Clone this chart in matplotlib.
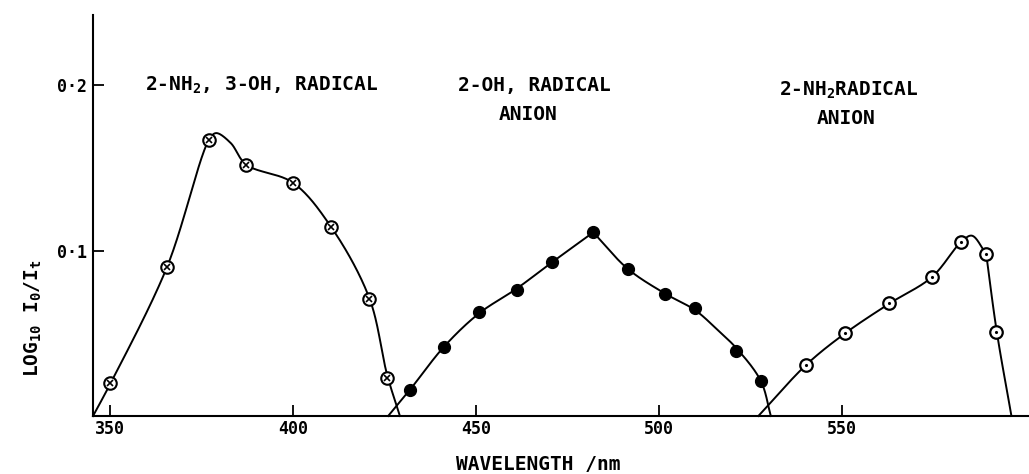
import numpy as np
import matplotlib
matplotlib.use("Agg")
import matplotlib.pyplot as plt

plt.rcParams["font.family"] = "DejaVu Sans Mono"
plt.rcParams["mathtext.fontset"] = "custom"
plt.rcParams["mathtext.rm"] = "DejaVu Sans Mono:bold"
plt.rcParams["mathtext.it"] = "DejaVu Sans Mono:bold"
plt.rcParams["mathtext.bf"] = "DejaVu Sans Mono:bold"

# measured points (wavelength nm, log10 I0/It)
wl_nh2_oh = [350.0, 365.6, 377.1, 387.2, 400.0, 410.5, 420.9, 425.7]
od_nh2_oh = [0.020, 0.090, 0.167, 0.152, 0.141, 0.114, 0.071, 0.023]

wl_oh = [432.0, 441.3, 450.8, 461.1, 470.8, 482.0, 491.4, 501.6, 509.8, 520.9, 527.8]
od_oh = [0.016, 0.042, 0.063, 0.076, 0.093, 0.111, 0.089, 0.074, 0.065, 0.039, 0.021]

wl_nh2 = [540.2, 550.8, 562.9, 574.5, 582.4, 589.3, 592.1]
od_nh2 = [0.031, 0.050, 0.068, 0.084, 0.105, 0.098, 0.051]

# hand-drawn smooth curves: knots (pieces join at corners)
curve1_wl = [345.4, 350.0, 365.6, 377.1, 379.0, 383.0, 387.2, 400.0, 410.5, 420.9, 425.7, 429.2]
curve1_od = [0.000, 0.019, 0.090, 0.167, 0.171, 0.165, 0.152, 0.141, 0.114, 0.071, 0.025, 0.000]
curve2a_wl = [426.0, 432.0, 441.3, 450.8, 461.1, 470.8, 482.0]
curve2a_od = [0.000, 0.016, 0.042, 0.062, 0.077, 0.093, 0.111]
curve2b_wl = [482.0, 491.4, 501.6, 509.8, 515.5, 521.5, 527.8, 530.5]
curve2b_od = [0.111, 0.089, 0.074, 0.064, 0.053, 0.040, 0.021, 0.000]
curve3a_wl = [527.1, 540.2, 550.8, 562.9, 574.5, 582.4, 585.4, 589.3]
curve3a_od = [0.000, 0.031, 0.050, 0.068, 0.084, 0.105, 0.109, 0.098]
curve3b_wl = [589.3, 592.2, 596.2]
curve3b_od = [0.098, 0.051, 0.000]

XS, YS = 3.66, 1650.0  # px per nm, px per unit (for even curve parametrisation)


def smooth(xk, yk, n=40):
    p = np.column_stack([np.asarray(xk) * XS, np.asarray(yk) * YS])
    p = np.vstack([2 * p[0] - p[1], p, 2 * p[-1] - p[-2]])
    out = []
    for i in range(1, len(p) - 2):
        p0, p1, p2, p3 = p[i - 1], p[i], p[i + 1], p[i + 2]
        t0 = 0.0
        t1 = t0 + np.linalg.norm(p1 - p0) ** 0.5
        t2 = t1 + np.linalg.norm(p2 - p1) ** 0.5
        t3 = t2 + np.linalg.norm(p3 - p2) ** 0.5
        t = np.linspace(t1, t2, n)[:, None]
        a1 = (t1 - t) / (t1 - t0) * p0 + (t - t0) / (t1 - t0) * p1
        a2 = (t2 - t) / (t2 - t1) * p1 + (t - t1) / (t2 - t1) * p2
        a3 = (t3 - t) / (t3 - t2) * p2 + (t - t2) / (t3 - t2) * p3
        b1 = (t2 - t) / (t2 - t0) * a1 + (t - t0) / (t2 - t0) * a2
        b2 = (t3 - t) / (t3 - t1) * a2 + (t - t1) / (t3 - t1) * a3
        out.append((t2 - t) / (t2 - t1) * b1 + (t - t1) / (t2 - t1) * b2)
    c = np.vstack(out)
    return c[:, 0] / XS, c[:, 1] / YS


fig = plt.figure(figsize=(10.29, 4.74), dpi=100)
ax = fig.add_axes([0.0904, 0.1224, 0.9096, 0.846])

pieces = [(curve1_wl, curve1_od), (curve2a_wl, curve2a_od), (curve2b_wl, curve2b_od),
          (curve3a_wl, curve3a_od), (curve3b_wl, curve3b_od)]
for cx, cy in pieces:
    sx, sy = smooth(cx, cy)
    ax.plot(sx, sy, color="black", lw=1.4, zorder=2, clip_on=False, solid_joinstyle="round")

# circle with cross
ax.plot(wl_nh2_oh, od_nh2_oh, "o", ms=9, mfc="white", mec="black", mew=1.5, zorder=3)
ax.plot(wl_nh2_oh, od_nh2_oh, "x", ms=5, color="black", mew=1.2, zorder=4)
# filled
ax.plot(wl_oh, od_oh, "o", ms=8.5, color="black", zorder=3)
# circle with dot
ax.plot(wl_nh2, od_nh2, "o", ms=9, mfc="white", mec="black", mew=1.6, zorder=3)
ax.plot(wl_nh2, od_nh2, ".", ms=2.5, color="black", zorder=4)

ax.set_xlim(345.4, 601)
ax.set_ylim(0, 0.2424)
ax.spines["top"].set_visible(False)
ax.spines["right"].set_visible(False)
ax.spines["left"].set_linewidth(1.5)
ax.spines["bottom"].set_linewidth(1.5)

ax.set_xticks([350, 400, 450, 500, 550])
ax.set_xticklabels(["350", "400", "450", "500", "550"], fontweight="bold")
ax.set_yticks([0.1, 0.2])
ax.set_yticklabels(["0·1", "0·2"], fontweight="bold")
ax.tick_params(direction="in", length=8, width=1.3, labelsize=12, pad=3)
ax.tick_params(axis="y", pad=4)

lab = dict(fontsize=14, fontweight="bold", va="center")
ax.text(359.6, 0.200, "2-NH$_2$, 3-OH, RADICAL", ha="left", **lab)
ax.text(445.0, 0.200, "2-OH, RADICAL", ha="left", **lab)
ax.text(464.2, 0.182, "ANION", ha="center", **lab)
ax.text(532.6, 0.197, "2-NH$_2$RADICAL", ha="left", **lab)
ax.text(551.1, 0.180, "ANION", ha="center", **lab)

fig.text(538 / 1029, 1 - 464 / 474, "WAVELENGTH /nm", fontsize=14, fontweight="bold",
         ha="center", va="center")
fig.text(33 / 1029, 1 - 318 / 474, "LOG$_{10}$ I$_0$/I$_t$", fontsize=14, fontweight="bold",
         ha="center", va="center", rotation=90)

fig.savefig("out.png", dpi=100)
